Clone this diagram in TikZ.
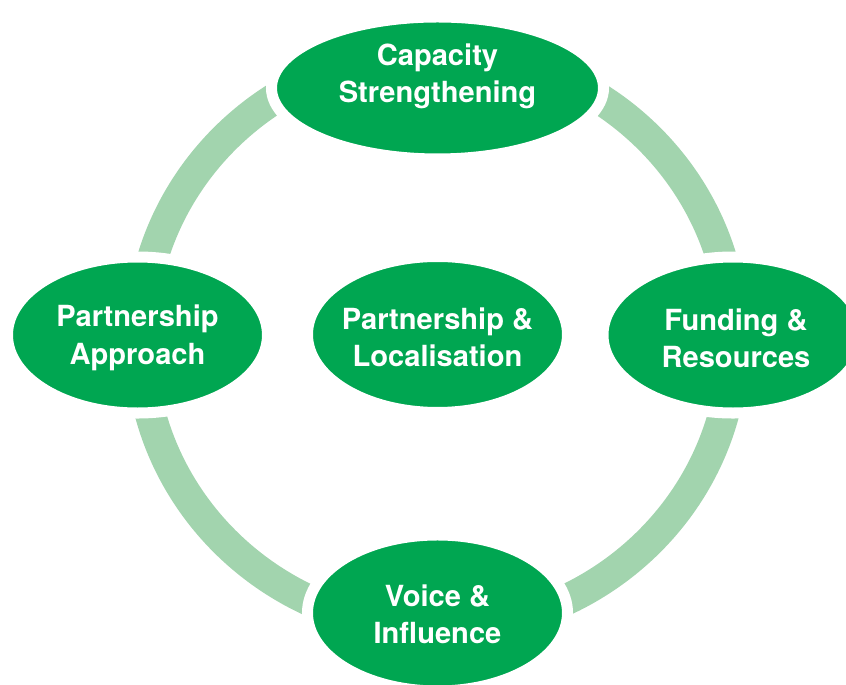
\documentclass[tikz,border=0pt]{standalone}
\usepackage{fontspec}
\setmainfont{TeX Gyre Heros}
\usepackage{tikz}
\usetikzlibrary{shapes.geometric}
\usetikzlibrary{positioning}

\definecolor{hubgreen}{RGB}{0,166,81}
\definecolor{ringgreen}{RGB}{162,212,174}

\begin{document}
\begin{tikzpicture}[
  hub/.style={ellipse,fill=hubgreen,draw=white,line width=0.367cm,inner sep=0pt,
    minimum width=8.667cm,minimum height=5.2cm},
  hubtext/.style={align=center,text=white,inner sep=0pt,
    font=\fontsize{27.6}{35.5}\selectfont\bfseries}
]
\useasboundingbox (0,0) rectangle (28.2,22.8);

% the ring behind the hubs
\draw[ringgreen,line width=1.033cm] (14.567,11.467) ellipse [x radius=9.883, y radius=9.617];

\node[hub,minimum width=11.067cm,minimum height=4.733cm] (cap) at (14.583,19.867) {};
\node[hub] (appr) at (4.583,11.633) {};
\node[hub] (loc) at (14.583,11.65) {};
\node[hub] (fund) at (24.433,11.633) {};
\node[hub] (voice) at (14.583,2.367) {};

\node[hubtext] (capT) at ([yshift=0.38cm]cap.center) {Capacity\\Strengthening};
\node[hubtext] (apprT) at ([yshift=-0.1cm]appr.center) {Partnership\\Approach};
\node[hubtext] (locT) at ([yshift=-0.1cm]loc.center) {Partnership \&\\Localisation};
\node[hubtext] (fundT) at ([xshift=0.1cm,yshift=-0.1cm]fund.center) {Funding \&\\Resources};
\node[hubtext] (voiceT) at ([yshift=-0.05cm]voice.center) {Voice \&\\Influence};

\end{tikzpicture}
\end{document}
